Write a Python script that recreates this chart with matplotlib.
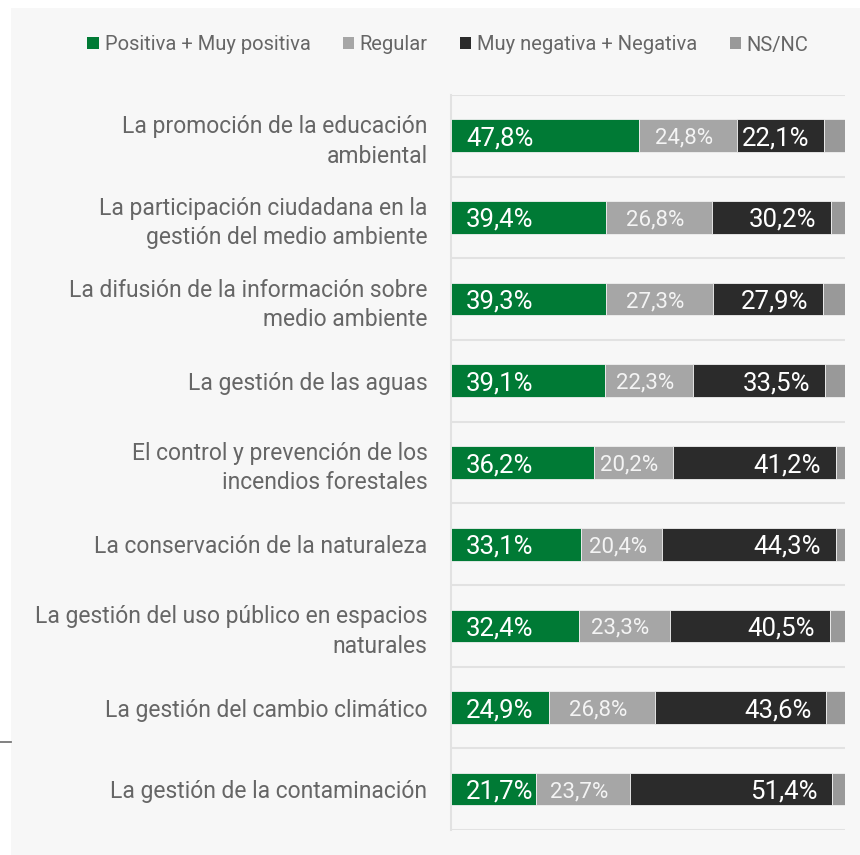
import matplotlib
matplotlib.use("Agg")
import matplotlib.pyplot as plt
from matplotlib.patches import Rectangle, Patch
from matplotlib.lines import Line2D

plt.rcParams['font.family'] = ['Roboto', 'DejaVu Sans']

categories = [
    "La promoción de la educación\nambiental",
    "La participación ciudadana en la\ngestión del medio ambiente",
    "La difusión de la información sobre\nmedio ambiente",
    "La gestión de las aguas",
    "El control y prevención de los\nincendios forestales",
    "La conservación de la naturaleza",
    "La gestión del uso público en espacios\nnaturales",
    "La gestión del cambio climático",
    "La gestión de la contaminación",
]
positiva = [47.8, 39.4, 39.3, 39.1, 36.2, 33.1, 32.4, 24.9, 21.7]
regular = [24.8, 26.8, 27.3, 22.3, 20.2, 20.4, 23.3, 26.8, 23.7]
negativa = [22.1, 30.2, 27.9, 33.5, 41.2, 44.3, 40.5, 43.6, 51.4]
nsnc = [5.3, 3.6, 5.5, 5.1, 2.4, 2.2, 3.8, 4.7, 3.2]

series_names = ["Positiva + Muy positiva", "Regular", "Muy negativa + Negativa", "NS/NC"]
colors = ["#007a35", "#a6a6a6", "#2b2b2b", "#999999"]

W, H = 860, 855
fig = plt.figure(figsize=(W / 100, H / 100), dpi=100, facecolor="white")

# grey panel behind everything
fig.add_artist(Rectangle((11 / W, 0), 1, 1 - 8 / H, transform=fig.transFigure,
                         facecolor="#f7f7f7", edgecolor="none", zorder=-10))
fig.add_artist(Line2D([0, 11 / W], [1 - 742 / H] * 2, color="#777777", lw=1.3))

ax = fig.add_axes([451 / W, 1 - 830 / H, (845 - 451) / W, (830 - 95) / H])
ax.set_facecolor("none")

y = list(range(len(categories)))
left = [0] * len(categories)
for vals, col in zip([positiva, regular, negativa, nsnc], colors):
    ax.barh(y, vals, left=left, height=0.4, color=col, edgecolor="#f0f0f0", linewidth=0.6, zorder=3)
    left = [l + v for l, v in zip(left, vals)]

px = 100 / (845 - 451)
for i in y:
    ax.text(15 * px, i, f"{positiva[i]:.1f}%".replace(".", ","), color="white",
            fontsize=18.5, ha="left", va="center_baseline", zorder=4)
    ax.text(positiva[i] + regular[i] / 2 - 1, i, f"{regular[i]:.1f}%".replace(".", ","),
            color="#f4f4f4", fontsize=16, ha="center", va="center_baseline", zorder=4)
    end = positiva[i] + regular[i] + negativa[i]
    ax.text(end - 15 * px, i, f"{negativa[i]:.1f}%".replace(".", ","), color="white",
            fontsize=18.5, ha="right", va="center_baseline", zorder=4)

for k in range(len(categories) + 1):
    ax.axhline(k - 0.5, color="#e2e2e2", lw=1.5, zorder=1)

ax.set_xlim(0, 100)
ax.set_ylim(len(categories) - 0.5, -0.5)
ax.set_yticks(y)
ax.set_yticklabels(categories, fontsize=16.5, color="#666666", linespacing=1.35)
ax.tick_params(axis="y", length=0, pad=17)
ax.set_xticks([])
for s in ["top", "right", "bottom"]:
    ax.spines[s].set_visible(False)
ax.spines["left"].set_color("#e2e2e2")
ax.spines["left"].set_linewidth(1.5)

handles = [Patch(facecolor=c, edgecolor="none") for c in colors]
fig.legend(handles, series_names, loc="center", bbox_to_anchor=(448 / W, 1 - 45 / H),
           ncol=4, frameon=False, fontsize=14.5, labelcolor="#666666",
           handlelength=0.55, handleheight=0.55, handletextpad=0.3, columnspacing=1.6)

fig.savefig("out.png", dpi=100, facecolor="white")
